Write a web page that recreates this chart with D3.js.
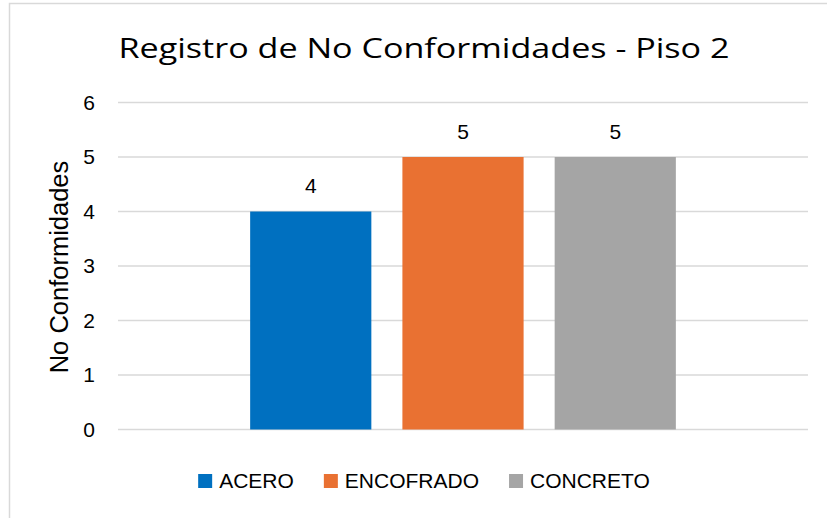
<!DOCTYPE html>
<html>
<head>
<meta charset="utf-8">
<script src="https://cdn.jsdelivr.net/npm/d3@7"></script>
<style>
  body { margin: 0; background: #fff; }
  text { font-family: "Liberation Sans", Arial, sans-serif; fill: #000; }
</style>
</head>
<body>
<div id="chart"></div>
<script>
// chart data
const categories = ['ACERO', 'ENCOFRADO', 'CONCRETO'];
const values = [4, 5, 5];
const colors = ['#0070C0', '#E97132', '#A5A5A5'];
const y_ticks = [0, 1, 2, 3, 4, 5, 6];
const title = 'Registro de No Conformidades - Piso 2';
const y_title = 'No Conformidades';

const W = 827, H = 518;
const plot = { left: 118, right: 808, top: 102.5, bottom: 429.5 };
const center_x = 424;

let svg = d3.select('#chart')
  .append('svg')
  .attr('width', W)
  .attr('height', H);

// chart area border (runs past the right and bottom edges)
svg.append('rect')
  .attr('x', 9.5)
  .attr('y', 3.5)
  .attr('width', 840)
  .attr('height', 540)
  .attr('fill', '#fff')
  .attr('stroke', '#D9D9D9')
  .attr('stroke-width', 1.5);

// scales
let x = d3.scaleBand()
  .domain(categories)
  .range([plot.left, plot.right])
  .paddingInner(0.204)
  .paddingOuter(0.868);

let y = d3.scaleLinear()
  .domain([0, 6])
  .range([plot.bottom, plot.top]);

// gridlines
svg.append('g')
  .selectAll('line')
  .data(y_ticks)
  .join('line')
  .attr('x1', plot.left)
  .attr('x2', plot.right)
  .attr('y1', (d) => y(d))
  .attr('y2', (d) => y(d))
  .attr('stroke', '#D9D9D9')
  .attr('stroke-width', 1.3);

// y axis labels
let y_axis = svg.append('g')
  .attr('transform', `translate(${plot.left}, 0)`)
  .call(d3.axisLeft(y)
    .tickValues(y_ticks)
    .tickFormat(d3.format('d'))
    .tickSize(0)
    .tickPadding(23));
y_axis.select('.domain').remove();
y_axis.selectAll('text')
  .style('font-family', '"Liberation Sans", Arial, sans-serif')
  .style('font-size', '21px')
  .attr('fill', '#000');

// bars
svg.append('g')
  .selectAll('rect')
  .data(categories)
  .join('rect')
  .attr('x', (d) => x(d))
  .attr('width', x.bandwidth())
  .attr('y', (d, i) => y(values[i]))
  .attr('height', (d, i) => y(0) - y(values[i]))
  .attr('fill', (d, i) => colors[i]);

// data labels
svg.append('g')
  .selectAll('text')
  .data(categories)
  .join('text')
  .attr('x', (d) => x(d) + x.bandwidth() / 2)
  .attr('y', (d, i) => y(values[i]) - 18.5)
  .attr('text-anchor', 'middle')
  .style('font-size', '21px')
  .text((d, i) => values[i]);

// title
svg.append('text')
  .attr('x', center_x)
  .attr('y', 58)
  .attr('text-anchor', 'middle')
  .attr('textLength', 611)
  .attr('lengthAdjust', 'spacingAndGlyphs')
  .style('font-family', '"Open Sans", sans-serif')
  .style('font-size', '28px')
  .text(title);

// y axis title
svg.append('text')
  .attr('transform', 'translate(68, 267) rotate(-90)')
  .attr('text-anchor', 'middle')
  .style('font-size', '25.5px')
  .text(y_title);

// legend, centred under the chart
let legend = svg.append('g');
let items = legend.selectAll('g')
  .data(categories)
  .join('g');
items.append('rect')
  .attr('width', 14)
  .attr('height', 14)
  .attr('y', 474)
  .attr('fill', (d, i) => colors[i]);
items.append('text')
  .attr('x', 21)
  .attr('y', 488)
  .style('font-size', '21px')
  .text((d) => d);

let offset = 0;
let offsets = [];
items.each(function () {
  offsets.push(offset);
  offset += 21 + this.querySelector('text').getComputedTextLength() + 30;
});
let total = offset - 30;
let start = center_x - total / 2;
items.attr('transform', (d, i) => `translate(${start + offsets[i]}, 0)`);
</script>
</body>
</html>
